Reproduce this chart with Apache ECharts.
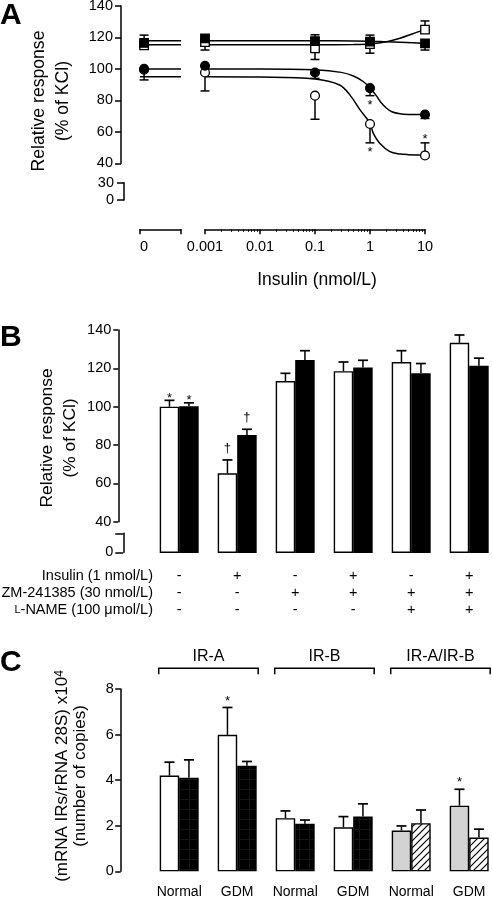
<!DOCTYPE html>
<html><head><meta charset="utf-8">
<script src="https://cdn.jsdelivr.net/npm/echarts@6/dist/echarts.min.js"></script>
<style>html,body{margin:0;padding:0;background:#fff}#c{width:492px;height:901px}</style>
</head><body><div id="c"></div>
<script>
// ================= DATA =================
// ---- Panel A : concentration-response (insulin, nmol/L) ----
const doseA = [0, 0.001, 0.1, 1, 10];           // 0 drawn on its own axis segment
const majorTicksA = [0.001, 0.01, 0.1, 1, 10];
const xTickLabelsA = ['0.001', '0.01', '0.1', '1', '10'];
const minorTicksA = [0.002,0.003,0.004,0.005,0.006,0.007,0.008,0.009,
                     0.02,0.03,0.04,0.05,0.06,0.07,0.08,0.09,
                     0.2,0.3,0.4,0.5,0.6,0.7,0.8,0.9,
                     2,3,4,5,6,7,8,9];
const yTicksA = [40, 60, 80, 100, 120, 140];
// filled square
const sqFilledA   = [116.5, 119.4, 117.7, 117.3, 116.3];
const sqFilledUpA = [5, 0, 4, 4.2, 0];
const sqFilledDnA = [0, 0, 0, 0, 4.3];
// open square
const sqOpenA   = [115, 117, 113, 115.8, 125];
const sqOpenUpA = [0, 0, 0, 0, 5.5];
const sqOpenDnA = [1.8, 5, 7, 5.8, 0];
// filled circle
const ciFilledA   = [100, 102, 97.7, 87.8, 71];
const ciFilledUpA = [0, 0, 0, 0, 0];
const ciFilledDnA = [7, 0, 3.7, 4.8, 2.5];
const ciFilledStarA = ['', '', '', 'below', ''];
// open circle
const ciOpenA   = [99.5, 97.7, 83, 65, 45];
const ciOpenUpA = [0, 0, 0, 0, 8];
const ciOpenDnA = [0, 11.7, 15, 12, 0];
const ciOpenStarA = ['', '', '', 'below', 'above'];
// fitted curves
const fitDoseSqA    = [0.001, 0.1, 0.5, 1, 2, 3.5, 6, 10];
const fitSqFilledA  = [117.9, 117.9, 117.8, 117.6, 117.2, 116.9, 116.6, 116.3];
const fitSqOpenA    = [115.3, 115.3, 115.5, 115.9, 117.3, 119.5, 122.4, 125];
const fitDoseCiFilledA = [0.001, 0.01, 0.1, 0.3, 0.5, 0.75, 1, 1.3, 1.6, 2, 2.5, 3.5, 5, 10];
const fitCiFilledA     = [100, 100, 99.4, 97.8, 95.5, 92, 88, 83, 78.5, 75, 72.8, 71.5, 71.1, 71];
const fitDoseCiOpenA   = [0.001, 0.01, 0.1, 0.28, 0.43, 0.66, 1, 1.15, 1.5, 2.3, 3.5, 5, 10];
const fitCiOpenA       = [95, 94.8, 93.6, 89.8, 83.5, 74, 65.5, 59, 52.7, 47.4, 45.9, 45.5, 45.3];

// ---- Panel B : bars ----
const catsB = ['c1', 'c2', 'c3', 'c4', 'c5', 'c6'];
const insulinRowB = ['-', '+', '-', '+', '-', '+'];
const zmRowB      = ['-', '-', '+', '+', '+', '+'];
const lnameRowB   = ['-', '-', '-', '-', '+', '+'];
const rowLabelsB  = ['Insulin (1 nmol/L)', 'ZM-241385 (30 nmol/L)', '{sc|L}-NAME (100 \u03bcmol/L)'];
const whiteB    = [100, 65.2, 113.4, 118.5, 123.3, 133.3];
const whiteErrB = [3.3, 7, 4, 4.8, 5.9, 4.1];
const whiteMarkB = ['*', '\u2020', '', '', '', ''];
const blackB    = [100.2, 85.2, 124.4, 120.4, 117.4, 121.4];
const blackErrB = [1.8, 3, 4.8, 3.8, 5.1, 3.9];
const blackMarkB = ['*', '\u2020', '', '', '', ''];
const yTicksB = [40, 60, 80, 100, 120, 140];

// ---- Panel C : mRNA bars ----
const catsC = ['Normal', 'GDM', 'Normal', 'GDM', 'Normal', 'GDM'];
const groupLabelsC = ['IR-A', 'IR-B', 'IR-A/IR-B'];
const groupSpanC = [[0, 1], [2, 3], [4, 5]];
const firstC    = [4.2, 5.99, 2.33, 1.93, 1.79, 2.88];
const firstErrC = [0.59, 1.2, 0.32, 0.47, 0.2, 0.72];
const firstMarkC = ['', '*', '', '', '', '*'];
const secondC    = [4.11, 4.63, 2.09, 2.4, 2.11, 1.48];
const secondErrC = [0.78, 0.19, 0.16, 0.56, 0.58, 0.37];
const secondMarkC = ['', '', '', '', '', ''];
const yTicksC = [0, 2, 4, 6, 8];

// ================= STYLE HELPERS =================
const FF = '"Liberation Sans", Arial, Helvetica, sans-serif';
const BLACK = '#000';
const GROUP_FRAC = 0.672;

function hatchPattern() {
  const s = 7, c = document.createElement('canvas');
  c.width = s; c.height = s;
  const g = c.getContext('2d');
  g.fillStyle = '#fff'; g.fillRect(0, 0, s, s);
  g.strokeStyle = '#000'; g.lineWidth = 1.2;
  g.beginPath();
  g.moveTo(-1, s + 1); g.lineTo(s + 1, -1);
  g.moveTo(-1, 1); g.lineTo(1, -1);
  g.moveTo(s - 1, s + 1); g.lineTo(s + 1, s - 1);
  g.stroke();
  return { image: c, repeat: 'repeat' };
}
function darkGridPattern() {
  const s = 10, c = document.createElement('canvas');
  c.width = s; c.height = s;
  const g = c.getContext('2d');
  g.fillStyle = '#000'; g.fillRect(0, 0, s, s);
  g.strokeStyle = '#161616'; g.lineWidth = 1;
  g.beginPath();
  g.moveTo(s - 0.5, 0); g.lineTo(s - 0.5, s);
  g.moveTo(0, s - 0.5); g.lineTo(s, s - 0.5);
  g.stroke();
  return { image: c, repeat: 'repeat' };
}

const lineEl = (x1, y1, x2, y2, w) => ({ type: 'line', shape: { x1, y1, x2, y2 }, style: { stroke: BLACK, lineWidth: w || 1.5 } });
const textEl = (t, x, y, size) => ({ type: 'text', style: { text: t, x, y, align: 'center', verticalAlign: 'middle', fontSize: size || 13, fontFamily: FF, fill: BLACK } });

const markCode = m => (m === '*' ? 1 : (m === '\u2020' ? 2 : (m === 'above' ? 1 : (m === 'below' ? -1 : 0))));

// A error bars + stars
function errRenderA(params, api) {
  const x = api.value(0), m = api.value(1), up = api.value(2), dn = api.value(3), st = api.value(4);
  const p = api.coord([x, m]);
  const cap = 9, ch = [];
  let yTop = p[1], yBot = p[1];
  if (up > 0) {
    yTop = api.coord([x, m + up])[1];
    ch.push(lineEl(p[0], p[1], p[0], yTop), lineEl(p[0] - cap / 2, yTop, p[0] + cap / 2, yTop));
  }
  if (dn > 0) {
    yBot = api.coord([x, m - dn])[1];
    ch.push(lineEl(p[0], p[1], p[0], yBot), lineEl(p[0] - cap / 2, yBot, p[0] + cap / 2, yBot));
  }
  if (st === 1) ch.push(textEl('*', p[0], yTop - 3));
  if (st === -1) ch.push(textEl('*', p[0], yBot + 10));
  return { type: 'group', children: ch };
}

// bar error bars + marks (B and C)
function makeBarErrRender(starOff, daggerOff) {
  return function (params, api) {
    const cat = api.value(0), slot = api.value(1), mean = api.value(2), err = api.value(3), mk = api.value(4);
    const band = api.size([1, 0])[0];
    const bw = band * GROUP_FRAC / 2;
    const p = api.coord([cat, mean]);
    const x = p[0] + (slot === 0 ? -bw / 2 : bw / 2);
    const yTop = api.coord([cat, mean + err])[1];
    const cap = 10;
    const ch = [lineEl(x, p[1], x, yTop), lineEl(x - cap / 2, yTop, x + cap / 2, yTop, 1.7)];
    if (mk === 1) ch.push(textEl('*', x, yTop - starOff));
    if (mk === 2) ch.push(textEl('\u2020', x, yTop - daggerOff));
    return { type: 'group', children: ch };
  };
}

function bracketRender(params, api) {
  const a = api.value(0), b = api.value(1);
  const band = api.size([1, 0])[0];
  const half = band * GROUP_FRAC / 2;
  const x1 = api.coord([a, 0])[0] - half - 1;
  const x2 = api.coord([b, 0])[0] + half + 1.5;
  const y = params.coordSys.y - 20.7;
  return {
    type: 'group', children: [
      { type: 'polyline', shape: { points: [[x1, y + 6], [x1, y], [x2, y], [x2, y + 6]] }, style: { stroke: BLACK, lineWidth: 1.5, fill: null } },
      textEl(groupLabelsC[params.dataIndex], (x1 + x2) / 2, y - 11.8, 16)
    ]
  };
}

// ================= LAYOUT =================
const grids = [
  { left: 140, top: 6, width: 41, height: 157.3 },        // 0 A, dose 0 segment
  { left: 205, top: 6, width: 220, height: 157.3 },       // 1 A, log segment
  { left: 124, top: 182.7, width: 10, height: 17.3 },     // 2 A, lower y segment
  { left: 150.2, top: 330, width: 348, height: 222.3 },   // 3 B data
  { left: 118.3, top: 330, width: 10, height: 191.7 },    // 4 B upper y axis
  { left: 123.3, top: 533.3, width: 10, height: 19 },     // 5 B lower y axis
  { left: 150.2, top: 689, width: 348, height: 182.3 },   // 6 C data
  { left: 121, top: 6, width: 10, height: 157.3 }         // 7 A upper y axis
].map(g => Object.assign({ show: false, containLabel: false, outerBoundsMode: 'none' }, g));

const axLine = { show: true, onZero: false, lineStyle: { color: BLACK, width: 1.5 } };
const axTick = (len, extra) => Object.assign({ show: true, length: len, lineStyle: { color: BLACK, width: 1.5 } }, extra || {});
const axLabel = (extra) => Object.assign({ color: BLACK, fontSize: 14.5, fontFamily: FF }, extra || {});
const hidden = (gi, type, extra) => Object.assign({ gridIndex: gi, type: type || 'value', show: false,
  axisLine: { onZero: false }, splitLine: { show: false } }, extra || {});

const xAxes = [
  { gridIndex: 0, type: 'value', min: -0.1, max: 0.9, position: 'bottom', offset: 66,
    axisLine: axLine, axisTick: axTick(5, { customValues: [-0.1, 0.9] }),
    axisLabel: axLabel({ customValues: [0], margin: 10, formatter: () => '0' }), splitLine: { show: false } },
  { gridIndex: 1, type: 'log', logBase: 10, min: 0.001, max: 10, position: 'bottom', offset: 66,
    axisLine: axLine, axisTick: axTick(5, { customValues: majorTicksA }),
    axisLabel: axLabel({ customValues: majorTicksA, margin: 10,
      formatter: v => xTickLabelsA[majorTicksA.findIndex(t => Math.abs(Math.log10(t) - Math.log10(v)) < 1e-6)] || '' }),
    splitLine: { show: false }, minorTick: { show: false } },
  { gridIndex: 1, type: 'log', logBase: 10, min: 0.001, max: 10, position: 'bottom', offset: 66,
    axisLine: { show: false, onZero: false }, axisTick: axTick(2.5, { customValues: minorTicksA, lineStyle: { color: BLACK, width: 1 } }),
    axisLabel: { show: false }, splitLine: { show: false } },
  hidden(2),
  { gridIndex: 3, type: 'category', data: catsB, axisLine: { show: false, onZero: false }, axisTick: { show: false },
    axisLabel: axLabel({ interval: 0, margin: 15.5, lineHeight: 17,
      formatter: (v, i) => [insulinRowB[i], zmRowB[i], lnameRowB[i]].join('\n') }), splitLine: { show: false } },
  hidden(4),
  hidden(5),
  { gridIndex: 6, type: 'category', data: catsC, axisLine: { show: false, onZero: false }, axisTick: { show: false },
    axisLabel: axLabel({ interval: 0, margin: 12.5, fontSize: 14, lineHeight: 16 }), splitLine: { show: false } },
  hidden(7)
];

const yAxes = [
  hidden(0, 'value', { min: 40, max: 140 }),
  hidden(1, 'value', { min: 40, max: 140 }),
  { gridIndex: 2, type: 'value', min: 0, max: 30, interval: 30,
    axisLine: axLine, axisTick: axTick(7), axisLabel: axLabel({ margin: 10 }), splitLine: { show: false } },
  hidden(3, 'value', { min: 24, max: 140 }),
  { gridIndex: 4, type: 'value', min: 40, max: 140, interval: 20,
    axisLine: axLine, axisTick: axTick(5), axisLabel: axLabel({ margin: 7 }), splitLine: { show: false } },
  { gridIndex: 5, type: 'value', min: 0, max: 30, interval: 30,
    axisLine: axLine, axisTick: axTick(8), axisLabel: axLabel({ margin: 10, formatter: v => (v === 0 ? '0' : '') }), splitLine: { show: false } },
  { gridIndex: 6, type: 'value', min: 0, max: 8, interval: 2, offset: 29.5,
    axisLine: axLine, axisTick: axTick(5.5), axisLabel: axLabel({ margin: 7 }), splitLine: { show: false } },
  { gridIndex: 7, type: 'value', min: 40, max: 140, interval: 20,
    axisLine: axLine, axisTick: axTick(6), axisLabel: axLabel({ margin: 8 }), splitLine: { show: false } }
];

// ================= SERIES =================
const series = [];
const groupsA = [
  { mean: ciOpenA, up: ciOpenUpA, dn: ciOpenDnA, star: ciOpenStarA, symbol: 'circle', fill: '#fff', fitX: fitDoseCiOpenA, fitY: fitCiOpenA },
  { mean: ciFilledA, up: ciFilledUpA, dn: ciFilledDnA, star: ciFilledStarA, symbol: 'circle', fill: BLACK, fitX: fitDoseCiFilledA, fitY: fitCiFilledA },
  { mean: sqOpenA, up: sqOpenUpA, dn: sqOpenDnA, star: null, symbol: 'rect', fill: '#fff', fitX: fitDoseSqA, fitY: fitSqOpenA },
  { mean: sqFilledA, up: sqFilledUpA, dn: sqFilledDnA, star: null, symbol: 'rect', fill: BLACK, fitX: fitDoseSqA, fitY: fitSqFilledA }
];
groupsA.forEach((g, gi) => {
  series.push({ type: 'line', xAxisIndex: 0, yAxisIndex: 0, z: 2, symbol: 'none', silent: true,
    lineStyle: { color: BLACK, width: 1.5 }, data: [[-0.1, g.fitY[0]], [0.9, g.fitY[0]]] });
  series.push({ type: 'line', xAxisIndex: 1, yAxisIndex: 1, z: 2, symbol: 'none', silent: true, smooth: 0.35,
    lineStyle: { color: BLACK, width: 1.5 }, data: g.fitX.map((x, i) => [x, g.fitY[i]]) });
  const rows = doseA.map((d, i) => [d, g.mean[i], g.up[i], g.dn[i], g.star ? markCode(g.star[i]) : 0]);
  series.push({ type: 'custom', xAxisIndex: 0, yAxisIndex: 0, z: 3 + gi * 0.01, renderItem: errRenderA,
    encode: { x: 0, y: 1 }, data: rows.slice(0, 1) });
  series.push({ type: 'custom', xAxisIndex: 1, yAxisIndex: 1, z: 3 + gi * 0.01, renderItem: errRenderA,
    encode: { x: 0, y: 1 }, data: rows.slice(1) });
  const sym = { type: 'scatter', symbol: g.symbol, symbolSize: g.symbol === 'rect' ? 8.5 : 8.8, z: 5 + gi,
    itemStyle: { color: g.fill, borderColor: BLACK, borderWidth: 1.3, opacity: 1 } };
  series.push(Object.assign({}, sym, { xAxisIndex: 0, yAxisIndex: 0, data: [[doseA[0], g.mean[0]]] }));
  series.push(Object.assign({}, sym, { xAxisIndex: 1, yAxisIndex: 1, data: doseA.slice(1).map((d, i) => [d, g.mean[i + 1]]) }));
});

// Panel B bars
const barCommon = { type: 'bar', barGap: '0%', barCategoryGap: '32.8%', clip: true, z: 2, silent: true };
series.push(Object.assign({}, barCommon, { xAxisIndex: 4, yAxisIndex: 3, data: whiteB,
  itemStyle: { color: '#fff', borderColor: BLACK, borderWidth: 1.4 } }));
series.push(Object.assign({}, barCommon, { xAxisIndex: 4, yAxisIndex: 3, data: blackB,
  itemStyle: { color: BLACK, borderColor: BLACK, borderWidth: 1.4 } }));
const errRowsB = [];
catsB.forEach((c, i) => {
  errRowsB.push([i, 0, whiteB[i], whiteErrB[i], markCode(whiteMarkB[i])]);
  errRowsB.push([i, 1, blackB[i], blackErrB[i], markCode(blackMarkB[i])]);
});
series.push({ type: 'custom', xAxisIndex: 4, yAxisIndex: 3, z: 3, renderItem: makeBarErrRender(2.2, 11.5),
  encode: { x: 0, y: 2 }, data: errRowsB });

// Panel C bars
const hatch = hatchPattern(), darkGrid = darkGridPattern();
series.push(Object.assign({}, barCommon, { xAxisIndex: 7, yAxisIndex: 6,
  data: firstC.map((v, i) => ({ value: v, itemStyle: { color: i < 4 ? '#fff' : '#d3d3d3', borderColor: BLACK, borderWidth: 1.4 } })) }));
series.push(Object.assign({}, barCommon, { xAxisIndex: 7, yAxisIndex: 6,
  data: secondC.map((v, i) => ({ value: v, itemStyle: { color: i < 4 ? darkGrid : hatch, borderColor: BLACK, borderWidth: 1.4 } })) }));
const errRowsC = [];
catsC.forEach((c, i) => {
  errRowsC.push([i, 0, firstC[i], firstErrC[i], markCode(firstMarkC[i])]);
  errRowsC.push([i, 1, secondC[i], secondErrC[i], markCode(secondMarkC[i])]);
});
series.push({ type: 'custom', xAxisIndex: 7, yAxisIndex: 6, z: 3, renderItem: makeBarErrRender(6.4, 11.5),
  encode: { x: 0, y: 2 }, data: errRowsC });
series.push({ type: 'custom', xAxisIndex: 7, yAxisIndex: 6, z: 3, renderItem: bracketRender,
  encode: { x: 0, y: 1 }, data: groupSpanC });

// ================= TEXT =================
const gtext = (text, x, y, opts) => ({ type: 'text', x, y, rotation: (opts && opts.rot) || 0, silent: true,
  style: Object.assign({ text, fontFamily: FF, fontSize: 14.5, fill: BLACK, align: 'center', verticalAlign: 'middle' }, (opts && opts.style) || {}) });
const letter = (t, y) => gtext(t, 0, y, { style: { fontSize: 30, fontWeight: 'bold', align: 'left' } });
const graphic = [
  letter('A', 16), letter('B', 338), letter('C', 663),
  gtext('Relative response\n(% of KCl)', 51.3, 101, { rot: Math.PI / 2, style: { fontSize: 17.6, lineHeight: 23.5 } }),
  gtext('Insulin (nmol/L)', 317, 280, { style: { fontSize: 17.5 } }),
  gtext('Relative response\n(% of KCl)', 58.8, 438, { rot: Math.PI / 2, style: { fontSize: 17.4, lineHeight: 22.5 } }),
  gtext('(mRNA IRs/rRNA 28S) x10{sup|4}\n(number of copies)', 71.5, 776, { rot: Math.PI / 2,
    style: { fontSize: 17, lineHeight: 18, rich: { sup: { fontSize: 12, fontFamily: FF, fill: BLACK, verticalAlign: 'top', lineHeight: 18 } } } })
];
rowLabelsB.forEach((t, i) => {
  graphic.push(gtext(t, 153, 576 + i * 17, { style: { align: 'right', rich: { sc: { fontSize: 11, fontFamily: FF, fill: BLACK } } } }));
});

const chart = echarts.init(document.getElementById('c'), null, { renderer: 'canvas', devicePixelRatio: 1 });
chart.setOption({
  animation: false,
  backgroundColor: '#fff',
  textStyle: { fontFamily: FF, color: BLACK },
  grid: grids, xAxis: xAxes, yAxis: yAxes, series, graphic
});
</script></body></html>
